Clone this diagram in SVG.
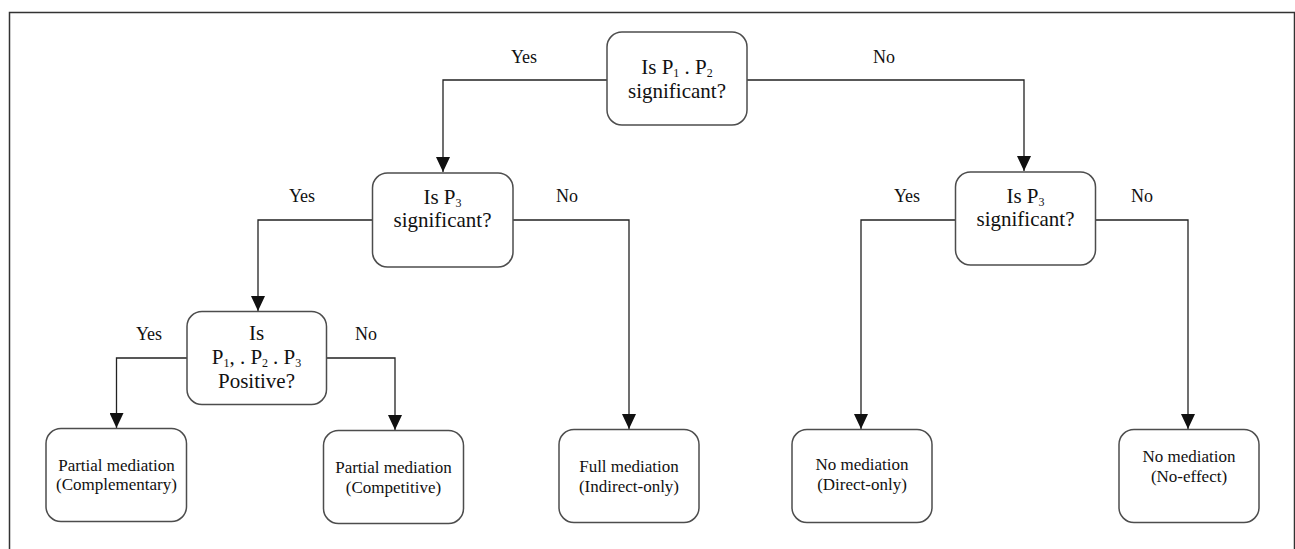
<svg xmlns="http://www.w3.org/2000/svg" width="1295" height="549" viewBox="0 0 1295 549">
<defs>
<style>
.box{fill:#fff;stroke:#4d4d4d;stroke-width:1.5}
.t{font-family:"Liberation Serif","Times New Roman",serif;font-size:21px;fill:#111;text-anchor:middle}
.s{font-family:"Liberation Serif","Times New Roman",serif;font-size:17px;fill:#111;text-anchor:middle}
.lbl{font-family:"Liberation Serif","Times New Roman",serif;font-size:18px;fill:#111;text-anchor:middle}
.sub{font-size:12px}
.c{fill:none;stroke:#222;stroke-width:1.3}
</style>
<marker id="ah" markerUnits="userSpaceOnUse" markerWidth="16" markerHeight="14" refX="15" refY="7" orient="auto" viewBox="0 0 16 14">
<path d="M0,0 L15,7 L0,14 Z" fill="#111"/>
</marker>
</defs>
<rect width="1295" height="549" fill="#fff"/>
<path d="M9.5,549 V12.5 H1294.5 V549" fill="none" stroke="#333" stroke-width="1.5"/>

<g id="connectors">
<path class="c" d="M607,80 H443 V172" marker-end="url(#ah)"/>
<path class="c" d="M747,80 H1024 V171" marker-end="url(#ah)"/>
<path class="c" d="M372,220 H258 V311" marker-end="url(#ah)"/>
<path class="c" d="M513,220 H629 V429" marker-end="url(#ah)"/>
<path class="c" d="M955,220 H861 V429" marker-end="url(#ah)"/>
<path class="c" d="M1095,220 H1188 V429" marker-end="url(#ah)"/>
<path class="c" d="M187,358 H116.5 V428" marker-end="url(#ah)"/>
<path class="c" d="M326,358 H395 V430" marker-end="url(#ah)"/>
</g>

<g id="labels">
<text class="lbl" x="524" y="63">Yes</text>
<text class="lbl" x="884" y="63">No</text>
<text class="lbl" x="302" y="202">Yes</text>
<text class="lbl" x="567" y="202">No</text>
<text class="lbl" x="907" y="202">Yes</text>
<text class="lbl" x="1142" y="202">No</text>
<text class="lbl" x="149" y="340">Yes</text>
<text class="lbl" x="366" y="340">No</text>
</g>

<g id="n-top">
<rect class="box" x="607" y="32" width="140" height="93" rx="15"/>
<text class="t" x="677" y="74">Is P<tspan class="sub" dy="3">1</tspan><tspan dy="-3"> . P</tspan><tspan class="sub" dy="3">2</tspan></text>
<text class="t" x="677" y="98">significant?</text>
</g>

<g id="n-p3-left">
<rect class="box" x="372.5" y="173" width="140.5" height="94" rx="15"/>
<text class="t" x="442.5" y="204">Is P<tspan class="sub" dy="3">3</tspan></text>
<text class="t" x="442.5" y="227">significant?</text>
</g>

<g id="n-p3-right">
<rect class="box" x="955.5" y="172" width="140" height="93" rx="15"/>
<text class="t" x="1025.5" y="203">Is P<tspan class="sub" dy="3">3</tspan></text>
<text class="t" x="1025.5" y="226">significant?</text>
</g>

<g id="n-positive">
<rect class="box" x="187" y="311.5" width="139.5" height="93" rx="15"/>
<text class="t" x="256.5" y="340">Is</text>
<text class="t" x="256.5" y="364">P<tspan class="sub" dy="3">1</tspan><tspan dy="-3">, . P</tspan><tspan class="sub" dy="3">2</tspan><tspan dx="5" dy="-3">. P</tspan><tspan class="sub" dy="3">3</tspan></text>
<text class="t" x="256.5" y="388">Positive?</text>
</g>

<g id="n-complementary">
<rect class="box" x="46" y="428.5" width="140.5" height="93" rx="15"/>
<text class="s" x="116.5" y="471">Partial mediation</text>
<text class="s" x="116.5" y="490">(Complementary)</text>
</g>

<g id="n-competitive">
<rect class="box" x="323.5" y="430.5" width="140" height="93" rx="15"/>
<text class="s" x="393.5" y="473">Partial mediation</text>
<text class="s" x="393.5" y="493">(Competitive)</text>
</g>

<g id="n-full">
<rect class="box" x="559" y="429.5" width="140" height="93" rx="15"/>
<text class="s" x="629" y="472">Full mediation</text>
<text class="s" x="629" y="492">(Indirect-only)</text>
</g>

<g id="n-direct">
<rect class="box" x="792" y="429.5" width="140" height="93" rx="15"/>
<text class="s" x="862" y="470">No mediation</text>
<text class="s" x="862" y="490">(Direct-only)</text>
</g>

<g id="n-noeffect">
<rect class="box" x="1119" y="429.5" width="140" height="93" rx="15"/>
<text class="s" x="1189" y="462">No mediation</text>
<text class="s" x="1189" y="482">(No-effect)</text>
</g>
</svg>
